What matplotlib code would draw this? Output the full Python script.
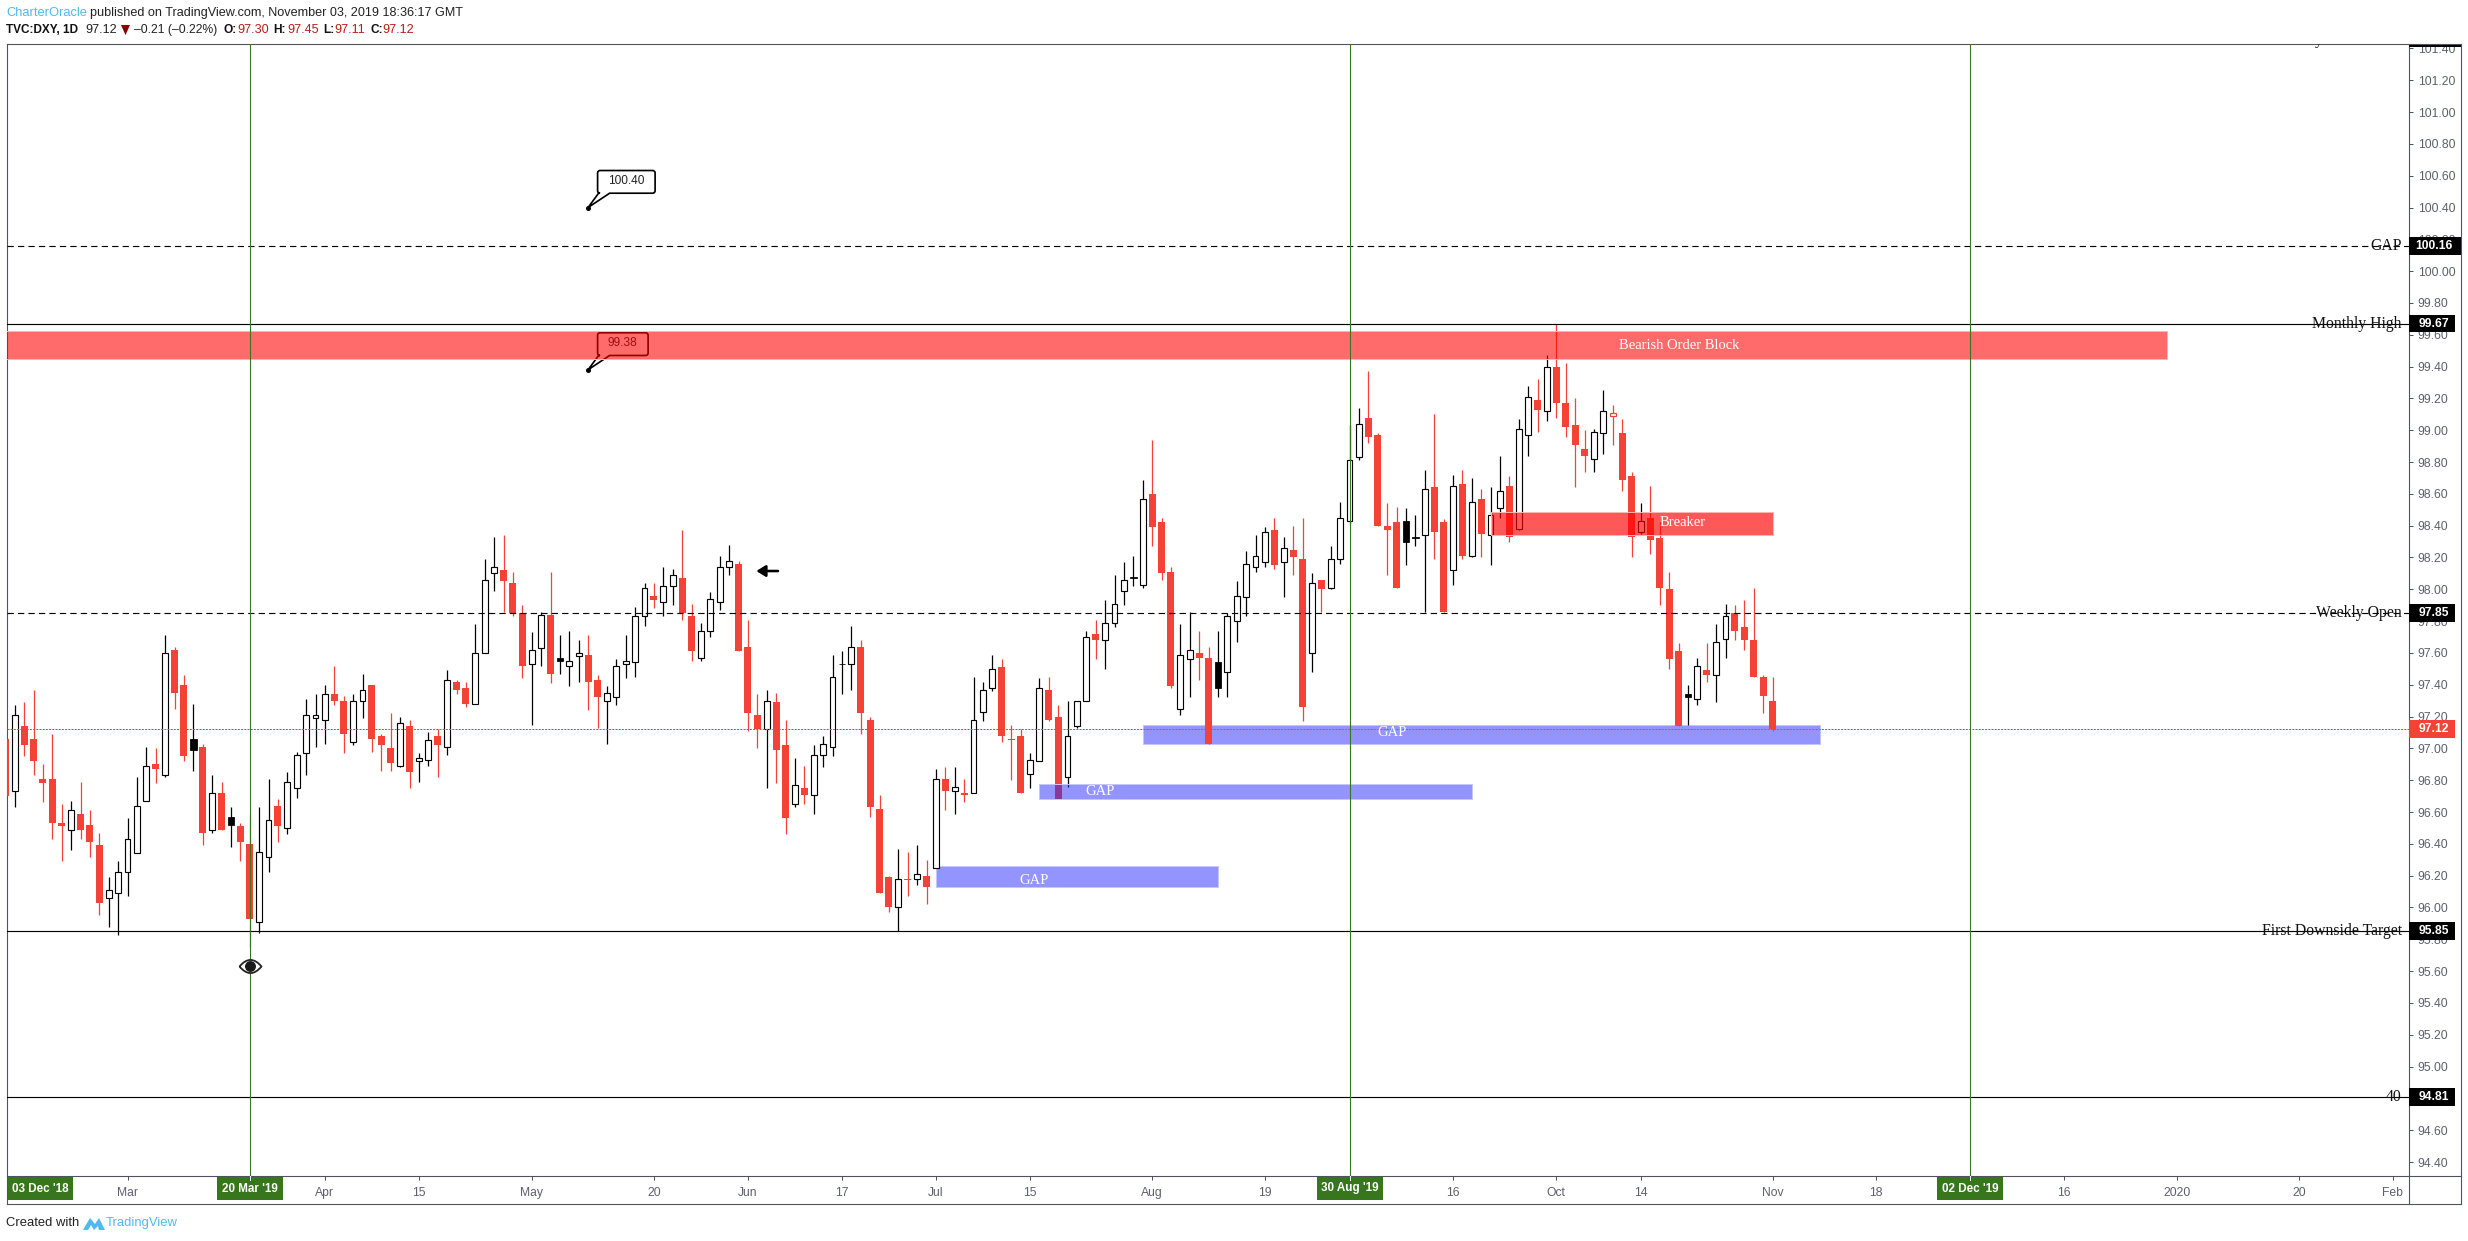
import numpy as np
import matplotlib
matplotlib.use("Agg")
import matplotlib.pyplot as plt
from matplotlib.lines import Line2D
from matplotlib.patches import Rectangle, PathPatch, Circle, Polygon
from matplotlib.path import Path
from matplotlib.transforms import Affine2D, blended_transform_factory

# ---------------- data ----------------
opens = [97.06,96.73,97.14,97.06,96.81,96.81,96.53,96.49,96.59,96.52,
         96.39,96.06,96.09,96.22,96.34,96.67,96.90,96.83,97.62,97.40,
         96.99,97.01,96.49,96.72,96.52,96.51,96.40,95.91,96.32,96.64,
         96.50,96.75,96.97,97.19,97.18,97.34,97.30,97.04,97.30,97.40,
         97.08,97.00,96.89,97.14,96.92,96.93,97.08,97.01,97.42,97.38,
         97.28,97.60,98.10,98.12,98.04,97.85,97.53,97.63,97.84,97.55,
         97.52,97.58,97.59,97.43,97.30,97.32,97.53,97.54,97.83,97.96,
         97.92,98.02,98.07,97.83,97.57,97.74,97.92,98.14,98.16,97.64,
         97.21,97.12,97.29,97.02,96.65,96.75,96.71,96.96,97.01,97.53,
         97.53,97.64,97.18,96.62,96.19,96.00,96.18,96.18,96.20,96.25,
         96.81,96.73,96.72,96.72,97.23,97.38,97.51,97.06,97.08,96.84,
         96.92,97.37,97.20,96.82,97.14,97.30,97.72,97.68,97.79,97.99,
         98.07,98.03,98.60,98.42,98.11,97.25,97.56,97.60,97.57,97.38,
         97.48,97.80,97.95,98.14,98.17,98.37,98.17,98.25,98.19,97.60,
         98.06,98.01,98.19,98.43,98.83,99.08,98.97,98.40,98.42,98.30,
         98.32,98.34,98.64,98.42,98.12,98.66,98.21,98.57,98.34,98.51,
         98.65,98.38,98.97,99.19,99.12,99.40,99.17,99.03,98.88,98.82,
         98.98,99.09,98.98,98.71,98.36,98.45,98.32,98.00,97.61,97.32,
         97.31,97.49,97.46,97.69,97.85,97.76,97.68,97.45,97.30]
closes = [96.70,97.21,97.02,96.92,96.78,96.53,96.51,96.61,96.49,96.41,
          96.03,96.11,96.22,96.43,96.64,96.89,96.87,97.60,97.35,96.95,
          97.06,96.47,96.72,96.49,96.57,96.41,95.93,96.35,96.55,96.51,
          96.79,96.96,97.21,97.21,97.34,97.30,97.09,97.30,97.37,97.06,
          97.02,96.91,97.16,96.85,96.94,97.05,97.02,97.43,97.37,97.28,
          97.60,98.06,98.14,98.05,97.85,97.52,97.62,97.84,97.47,97.57,
          97.55,97.60,97.42,97.32,97.35,97.52,97.55,97.83,98.01,97.93,
          98.02,98.09,97.85,97.61,97.74,97.94,98.14,98.18,97.61,97.22,
          97.12,97.30,96.99,96.56,96.77,96.71,96.96,97.03,97.45,97.53,
          97.64,97.22,96.63,96.09,96.00,96.18,96.17,96.21,96.13,96.81,
          96.73,96.76,96.71,97.18,97.37,97.50,97.08,97.05,96.72,96.93,
          97.38,97.18,96.68,97.08,97.30,97.70,97.68,97.79,97.91,98.06,
          98.08,98.57,98.39,98.10,97.39,97.59,97.62,97.57,97.03,97.54,
          97.83,97.96,98.16,98.21,98.36,98.15,98.26,98.20,97.26,98.04,
          98.00,98.19,98.45,98.81,99.04,98.96,98.40,98.37,98.01,98.43,
          98.33,98.63,98.36,97.86,98.65,98.21,98.55,98.35,98.47,98.62,
          98.33,99.01,99.21,99.13,99.40,99.17,99.02,98.91,98.84,98.99,
          99.12,99.11,98.69,98.33,98.43,98.31,98.01,97.56,97.14,97.34,
          97.52,97.46,97.67,97.83,97.74,97.68,97.45,97.33,97.12]
highs = [97.10,97.27,97.29,97.37,96.90,97.09,96.65,96.67,96.79,96.61,
         96.47,96.19,96.29,96.56,96.82,97.01,97.00,97.71,97.64,97.46,
         97.28,97.03,96.83,96.79,96.63,96.53,96.58,96.63,96.81,96.68,
         96.85,96.98,97.31,97.34,97.40,97.52,97.33,97.34,97.47,97.40,
         97.09,97.22,97.20,97.18,96.97,97.10,97.12,97.49,97.43,97.42,
         97.78,98.19,98.33,98.34,98.11,97.90,97.73,97.86,98.11,97.71,
         97.74,97.68,97.71,97.46,97.39,97.56,97.71,97.89,98.04,98.04,
         98.14,98.13,98.37,97.91,97.79,97.98,98.21,98.28,98.18,97.81,
         97.34,97.37,97.35,97.18,96.94,96.89,97.02,97.08,97.59,97.61,
         97.77,97.68,97.20,96.71,96.20,96.37,96.35,96.39,96.30,96.87,
         96.88,96.88,96.81,97.45,97.42,97.59,97.56,97.15,97.12,96.97,
         97.44,97.45,97.27,97.30,97.30,97.74,97.81,97.93,98.09,98.17,
         98.21,98.69,98.94,98.45,98.14,97.78,97.86,97.74,97.64,97.74,
         97.85,98.05,98.24,98.34,98.39,98.45,98.33,98.40,98.45,98.10,
         98.06,98.27,98.55,99.03,99.14,99.37,98.98,98.54,98.52,98.51,
         98.47,98.75,99.10,98.44,98.72,98.75,98.70,98.63,98.64,98.84,
         98.71,99.07,99.28,99.32,99.47,99.67,99.42,99.20,99.00,99.01,
         99.25,99.16,99.07,98.74,98.54,98.65,98.42,98.11,97.66,97.40,
         97.57,97.66,97.78,97.91,97.90,97.93,98.01,97.46,97.45]
lows = [96.65,96.63,96.95,96.83,96.66,96.43,96.29,96.36,96.43,96.32,
        95.95,95.88,95.83,96.07,96.34,96.67,96.78,96.82,97.25,96.92,
        96.86,96.39,96.47,96.49,96.38,96.29,95.75,95.84,96.22,96.41,
        96.46,96.69,96.83,97.01,97.03,97.27,96.97,97.02,97.19,96.98,
        96.86,96.86,96.88,96.75,96.79,96.89,96.82,96.96,97.34,97.26,
        97.28,97.60,97.99,97.86,97.83,97.44,97.15,97.52,97.41,97.47,
        97.39,97.42,97.24,97.13,97.03,97.27,97.44,97.45,97.77,97.88,
        97.83,97.90,97.81,97.55,97.55,97.70,97.87,98.09,97.61,97.11,
        97.00,96.75,96.78,96.46,96.63,96.65,96.59,96.88,96.95,97.34,
        97.37,97.09,96.57,96.09,95.97,95.85,96.07,96.14,96.02,96.25,
        96.61,96.59,96.66,96.72,97.17,97.36,97.04,96.80,96.72,96.75,
        96.92,97.17,96.68,96.76,97.13,97.30,97.56,97.50,97.76,97.90,
        98.02,98.01,98.27,98.06,97.38,97.21,97.32,97.43,97.03,97.32,
        97.32,97.67,97.83,98.11,98.14,98.13,97.95,98.09,97.17,97.48,
        97.86,98.00,98.16,98.41,98.81,98.92,98.40,98.09,98.01,98.15,
        98.27,97.86,98.19,97.86,98.03,98.19,98.20,98.20,98.15,98.45,
        98.30,98.37,98.84,98.99,99.06,99.08,98.96,98.64,98.74,98.74,
        98.85,98.91,98.62,98.20,98.35,98.22,97.90,97.50,97.14,97.15,
        97.27,97.42,97.29,97.57,97.68,97.62,97.45,97.22,97.11]
black_bars = [20, 24, 59, 89, 120, 129, 149, 150, 179]
red_outline_bars = [171]

price_ticks = [94.4, 94.6, 94.8, 95.0, 95.2, 95.4, 95.6, 95.8, 96.0, 96.2, 96.4, 96.6, 96.8, 97.0, 97.2,
               97.4, 97.6, 97.8, 98.0, 98.2, 98.4, 98.6, 98.8, 99.0, 99.2, 99.4, 99.6, 99.8,
               100.0, 100.2, 100.4, 100.6, 100.8, 101.0, 101.2, 101.4]
date_ticks = [13, 26, 34, 44, 56, 69, 79, 89, 99, 109, 122, 134, 143, 154, 165, 174, 188, 199, 209, 219, 231, 244, 254]
date_labels = ['Mar', '', 'Apr', '15', 'May', '20', 'Jun', '17', 'Jul', '15', 'Aug', '19', '', '16', 'Oct', '14',
               'Nov', '18', '', '16', '2020', '20', 'Feb']
marked_bars = [0, 26, 143, 209]
marked_dates = ["03 Dec '18", "20 Mar '19", "30 Aug '19", "02 Dec '19"]
green_lines = [26, 143, 209]

level_prices = [100.16, 99.67, 97.85, 95.85, 94.81]
level_names = ['GAP', 'Monthly High', 'Weekly Open', 'First Downside Target', '40']
level_dashed = [True, False, True, False, False]
last_price = 97.12

block_x = [-1, 230]; block_y = [99.45, 99.625]
breaker_x = [158, 188]; breaker_y = [98.343, 98.484]
gap_x0 = [121, 110, 99]; gap_x1 = [193, 156, 129]
gap_lo = [97.026, 96.68, 96.131]; gap_hi = [97.147, 96.774, 96.259]
gap_label_x = [147.5, 116.5, 109.4]; gap_label_y = [97.10, 96.727, 96.17]
callout_prices = [100.40, 99.38]
callout_bar = 62

# ---------------- layout ----------------
W, H = 2468, 1241
AX_L, AX_R, AX_T, AX_B, PANEL_R, PANEL_B = 6.5, 2408.5, 43.5, 1176, 2461, 1204
X0, PITCH = 5.3, 9.4
GREY = '#5d606b'; FRAME = '#50535e'; RED = '#f44336'; GREEN = '#38761d'; BLUE = '#4dbbee'
SANS = 'Liberation Sans'; SERIF = 'Liberation Serif'
UI = ['Liberation Sans Narrow', 'Liberation Sans']
PX = 0.72  # one pixel in points at dpi 100

fig = plt.figure(figsize=(W/100, H/100), dpi=100, facecolor='white')
ax = fig.add_axes([AX_L/W, 1-AX_B/H, (AX_R-AX_L)/W, (AX_B-AX_T)/H])
ax.set_xlim((AX_L-X0)/PITCH, (AX_R-X0)/PITCH)
ax.set_ylim(94.312, 101.431)
for s in ax.spines.values():
    s.set_color(FRAME); s.set_linewidth(1.1*PX)

pixels = Affine2D().scale(1/W, -1/H).translate(0, 1) + fig.transFigure
def figline(xs, ys, **k):
    fig.add_artist(Line2D(xs, ys, transform=pixels, **k))
def figtext(x, y, s, **k):
    k.setdefault('family', SANS); k.setdefault('va', 'center')
    fig.text(x/W, 1-y/H, s, **k)

# axes ticks
ax.yaxis.tick_right()
ax.set_yticks(price_ticks, [f'{p:.2f}' for p in price_ticks], family=SANS, fontsize=8.7, color=GREY)
ax.set_xticks(date_ticks, date_labels, family=SANS, fontsize=8.7, color=GREY)
ax.tick_params(axis='y', length=4*PX, width=PX, color=FRAME, pad=3.8)
ax.tick_params(axis='x', length=4*PX, width=PX, color=FRAME, pad=5)

# gap zones below the candles
bar_x = np.arange(len(opens))
def zone(x0, x1, lo, hi, face, alpha, edge, z):
    r, g, b = matplotlib.colors.to_rgb(face)
    ax.add_patch(Rectangle((x0, lo), x1-x0, hi-lo, facecolor=(r, g, b, alpha), edgecolor=edge,
                           linewidth=PX, zorder=z))
zone(gap_x0[0], gap_x1[0], gap_lo[0], gap_hi[0], '#2a2aff', .5, '#c4c4ff', 2)
zone(gap_x0[2], gap_x1[2], gap_lo[2], gap_hi[2], '#2a2aff', .5, '#c4c4ff', 2)

# candles
o, c, h, l = map(np.array, (opens, closes, highs, lows))
up = c >= o
blk = np.isin(bar_x, black_bars)
hol = np.isin(bar_x, red_outline_bars)
kinds = {'up': up & ~blk & ~hol, 'down': ~up & ~blk & ~hol, 'black': blk, 'hollow': hol}
wick_col = {'up': 'black', 'down': RED, 'black': 'black', 'hollow': RED}
for kind, m in kinds.items():
    ax.vlines(bar_x[m], l[m], h[m], color=wick_col[kind], linewidth=1.25*PX, zorder=3)
    tops, bots = np.maximum(o[m], c[m]), np.minimum(o[m], c[m])
    if kind == 'down':
        ax.bar(bar_x[m], tops-bots, .74, bots, color=RED, linewidth=0, zorder=3.1)
    elif kind == 'black':
        ax.bar(bar_x[m], tops-bots, .72, bots, color='black', edgecolor='black', linewidth=.8*PX, zorder=3.1)
    else:
        ax.bar(bar_x[m], tops-bots, .6, bots, color='white', edgecolor=wick_col[kind],
               linewidth=1.15*PX, zorder=3.1)

# callouts anchored at their price
def callout(price, label, width, text_dx):
    ax_x, ax_y = ax.transData.transform((callout_bar, price))
    tr = Affine2D().scale(1, -1).translate(ax_x, ax_y)
    x0, x1, y0, y1 = 9.5, 9.5+width, -37, -14.3
    r = 2.5
    verts = [(0, 0), (x0+1, y1), (x0+r, y1), (x0, y1), (x0, y1-r), (x0, y0+r), (x0, y0), (x0+r, y0),
             (x1-r, y0), (x1, y0), (x1, y0+r), (x1, y1-r), (x1, y1), (x1-r, y1), (x0+12, y1), (0, 0)]
    codes = [Path.MOVETO, Path.LINETO, Path.LINETO, Path.CURVE3, Path.CURVE3, Path.LINETO, Path.CURVE3, Path.CURVE3,
             Path.LINETO, Path.CURVE3, Path.CURVE3, Path.LINETO, Path.CURVE3, Path.CURVE3, Path.LINETO, Path.CLOSEPOLY]
    ax.add_patch(PathPatch(Path(verts, codes), facecolor='white', edgecolor='black', linewidth=1.7*PX,
                           transform=tr, zorder=3.5, clip_on=False))
    ax.plot([callout_bar], [price], marker='o', ms=3.6*PX, color='black', zorder=3.6)
    ax.annotate(label, (callout_bar, price), xytext=(text_dx*PX, 26.8*PX), textcoords='offset points',
                ha='center', va='center', family=SANS, fontsize=8.6, color='#222222', zorder=3.7)
callout(callout_prices[0], '100.40', 57.5, 38)
callout(callout_prices[1], '99.38', 50.5, 34.7)

# zones above the candles
zone(block_x[0], block_x[1], block_y[0], block_y[1], '#ff0000', .58, '#ffb4b4', 4)
zone(breaker_x[0], breaker_x[1], breaker_y[0], breaker_y[1], '#ff0000', .655, '#ffb4b4', 4)
zone(gap_x0[1], gap_x1[1], gap_lo[1], gap_hi[1], '#2a2aff', .5, '#c4c4ff', 4)

# horizontal levels and the last price
for p, dash in zip(level_prices, level_dashed):
    ax.axhline(p, color='black', linewidth=1.15*PX, linestyle=(0, (5.5, 3.6)) if dash else '-', zorder=5)
ax.axhline(last_price, color=RED, linewidth=PX, linestyle=(0, (2, 1.2)), zorder=5)
for gx in green_lines:
    ax.axvline(gx, color=GREEN, linewidth=1.1*PX, zorder=5.2)

# zone labels
ztxt = dict(family=SERIF, fontsize=10.5, color='white', ha='center', va='center', zorder=6)
ax.text(178.1, 99.535, 'Bearish Order Block', **ztxt)
ax.text(178.4, 98.42, 'Breaker', **ztxt)
for gx, gy in zip(gap_label_x, gap_label_y):
    ax.text(gx, gy, 'GAP', **ztxt)

# level labels on the right edge
for p, name in zip(level_prices, level_names):
    ax.annotate(name, (1, p), xycoords=('axes fraction', 'data'), xytext=(-6.5*PX, 0), textcoords='offset points',
                ha='right', va='center', family=SERIF, fontsize=11.3, color='#111111', zorder=6)

# clipped descender of a label above the chart top
ax.text((2319-X0)/PITCH, 101.431, 'y', family=SERIF, fontsize=11.3, color='#111111', ha='center', va='baseline',
        clip_on=True, zorder=6)

# eye marker below the March low and the arrow
lens = Path([(-1, 0), (0, 1.2), (1, 0), (0, -1.2), (-1, 0)],
            [Path.MOVETO, Path.CURVE3, Path.CURVE3, Path.CURVE3, Path.CURVE3])
ax.plot([26], [95.634], marker=lens, ms=26.4*PX, mfc='white', mec='#222222', mew=1.8*PX, zorder=6)
ax.plot([26], [95.634], marker='o', ms=9.5*PX, color='#1a1a1a', zorder=6.1)
ax.annotate('', xy=(79.9, 98.115), xytext=(82.2, 98.115),
            arrowprops=dict(arrowstyle='-|>,head_length=0.45,head_width=0.28', color='black', lw=2.6*PX,
                            shrinkA=0, shrinkB=0, mutation_scale=12), zorder=6)

# price tags in the scale
boxtr = blended_transform_factory(pixels, ax.transData)
tags = list(zip(level_prices, ['black']*5, [2461, 2455, 2455, 2455, 2455])) + [(last_price, RED, 2455)]
half = 8.85/159.1
for p, col, xe in tags:
    ax.add_patch(Rectangle((AX_R, p-half), xe-AX_R, 2*half, transform=boxtr, facecolor=col, edgecolor='none',
                           clip_on=False, zorder=7))
    ax.text(2433.5, p, f'{p:.2f}', transform=boxtr, ha='center', va='center', color='white',
            family=SANS, fontsize=8.7, fontweight='bold', clip_on=False, zorder=7.1)
# top of the scale: clipped tag
fig.add_artist(Rectangle((AX_R, 30), PANEL_R-AX_R, 13.5, transform=pixels, facecolor='white', edgecolor='none', zorder=5))
fig.add_artist(Rectangle((AX_R, 43.5), PANEL_R-AX_R, 3.5, transform=pixels, facecolor='black', edgecolor='none', zorder=5))

# dated tags on the time scale
for b, t in zip(marked_bars, marked_dates):
    cx = X0 + PITCH*b if b else 40
    fig.add_artist(Rectangle((cx-33, 1177), 66, 23, transform=pixels, facecolor=GREEN, edgecolor='none', zorder=5))
    figtext(cx, 1188.5, t, color='white', ha='center', fontsize=8.4, fontweight='bold', zorder=6)
    if b:
        figline([cx, cx], [1176, 1180], color='white', linewidth=PX, zorder=6)

# outer frame
fk = dict(color=FRAME, linewidth=1.1*PX, zorder=6)
figline([AX_L, AX_L], [AX_B, PANEL_B], **fk)
figline([AX_R, AX_R], [AX_B, PANEL_B], **fk)
figline([PANEL_R, PANEL_R], [AX_T, PANEL_B], **fk)
figline([AX_L, PANEL_R], [PANEL_B, PANEL_B], **fk)
figline([AX_R, PANEL_R], [AX_T, AX_T], **fk)
figline([AX_R, PANEL_R], [AX_B, AX_B], **fk)

# header
hs = 9.1
figtext(6.5, 12.7, 'CharterOracle', color=BLUE, fontsize=9.3)
figtext(90.5, 12.7, 'published on TradingView.com, November 03, 2019 18:36:17 GMT', color='#222222', fontsize=hs)
figtext(6.5, 30, 'TVC:DXY, 1D', color='#111111', fontsize=8.45, fontweight='bold')
figtext(85, 30, '97.12', color='#222222', fontsize=hs)
fig.add_artist(Polygon([(121, 25), (130, 25), (125.5, 35)], closed=True, transform=pixels, facecolor='#8b0000',
                       edgecolor='none'))
figtext(134, 30, '\u20130.21 (\u20130.22%)', color='#222222', fontsize=8.7)
for lx, lab, vx, val in [(223, 'O:', 237.5, '97.30'), (273, 'H:', 287, '97.45'),
                         (323, 'L:', 334, '97.11'), (370.5, 'C:', 382.6, '97.12')]:
    figtext(lx, 30, lab, color='#111111', fontsize=8.6, fontweight='bold')
    figtext(vx, 30, val, color='#b71c1c', fontsize=hs)

# footer
figtext(6, 1223, 'Created with', color='#222222', fontsize=9.4)
figtext(106, 1223, 'TradingView', color=BLUE, fontsize=9.4)
fig.add_artist(Polygon([(83, 1230), (90, 1218), (95, 1224), (99, 1218), (105, 1230), (99, 1230), (98, 1226),
                        (94, 1230), (91, 1225), (88, 1230)], closed=True, transform=pixels, facecolor=BLUE,
                       edgecolor='none'))

fig.savefig('out.png', dpi=100, facecolor='white')
